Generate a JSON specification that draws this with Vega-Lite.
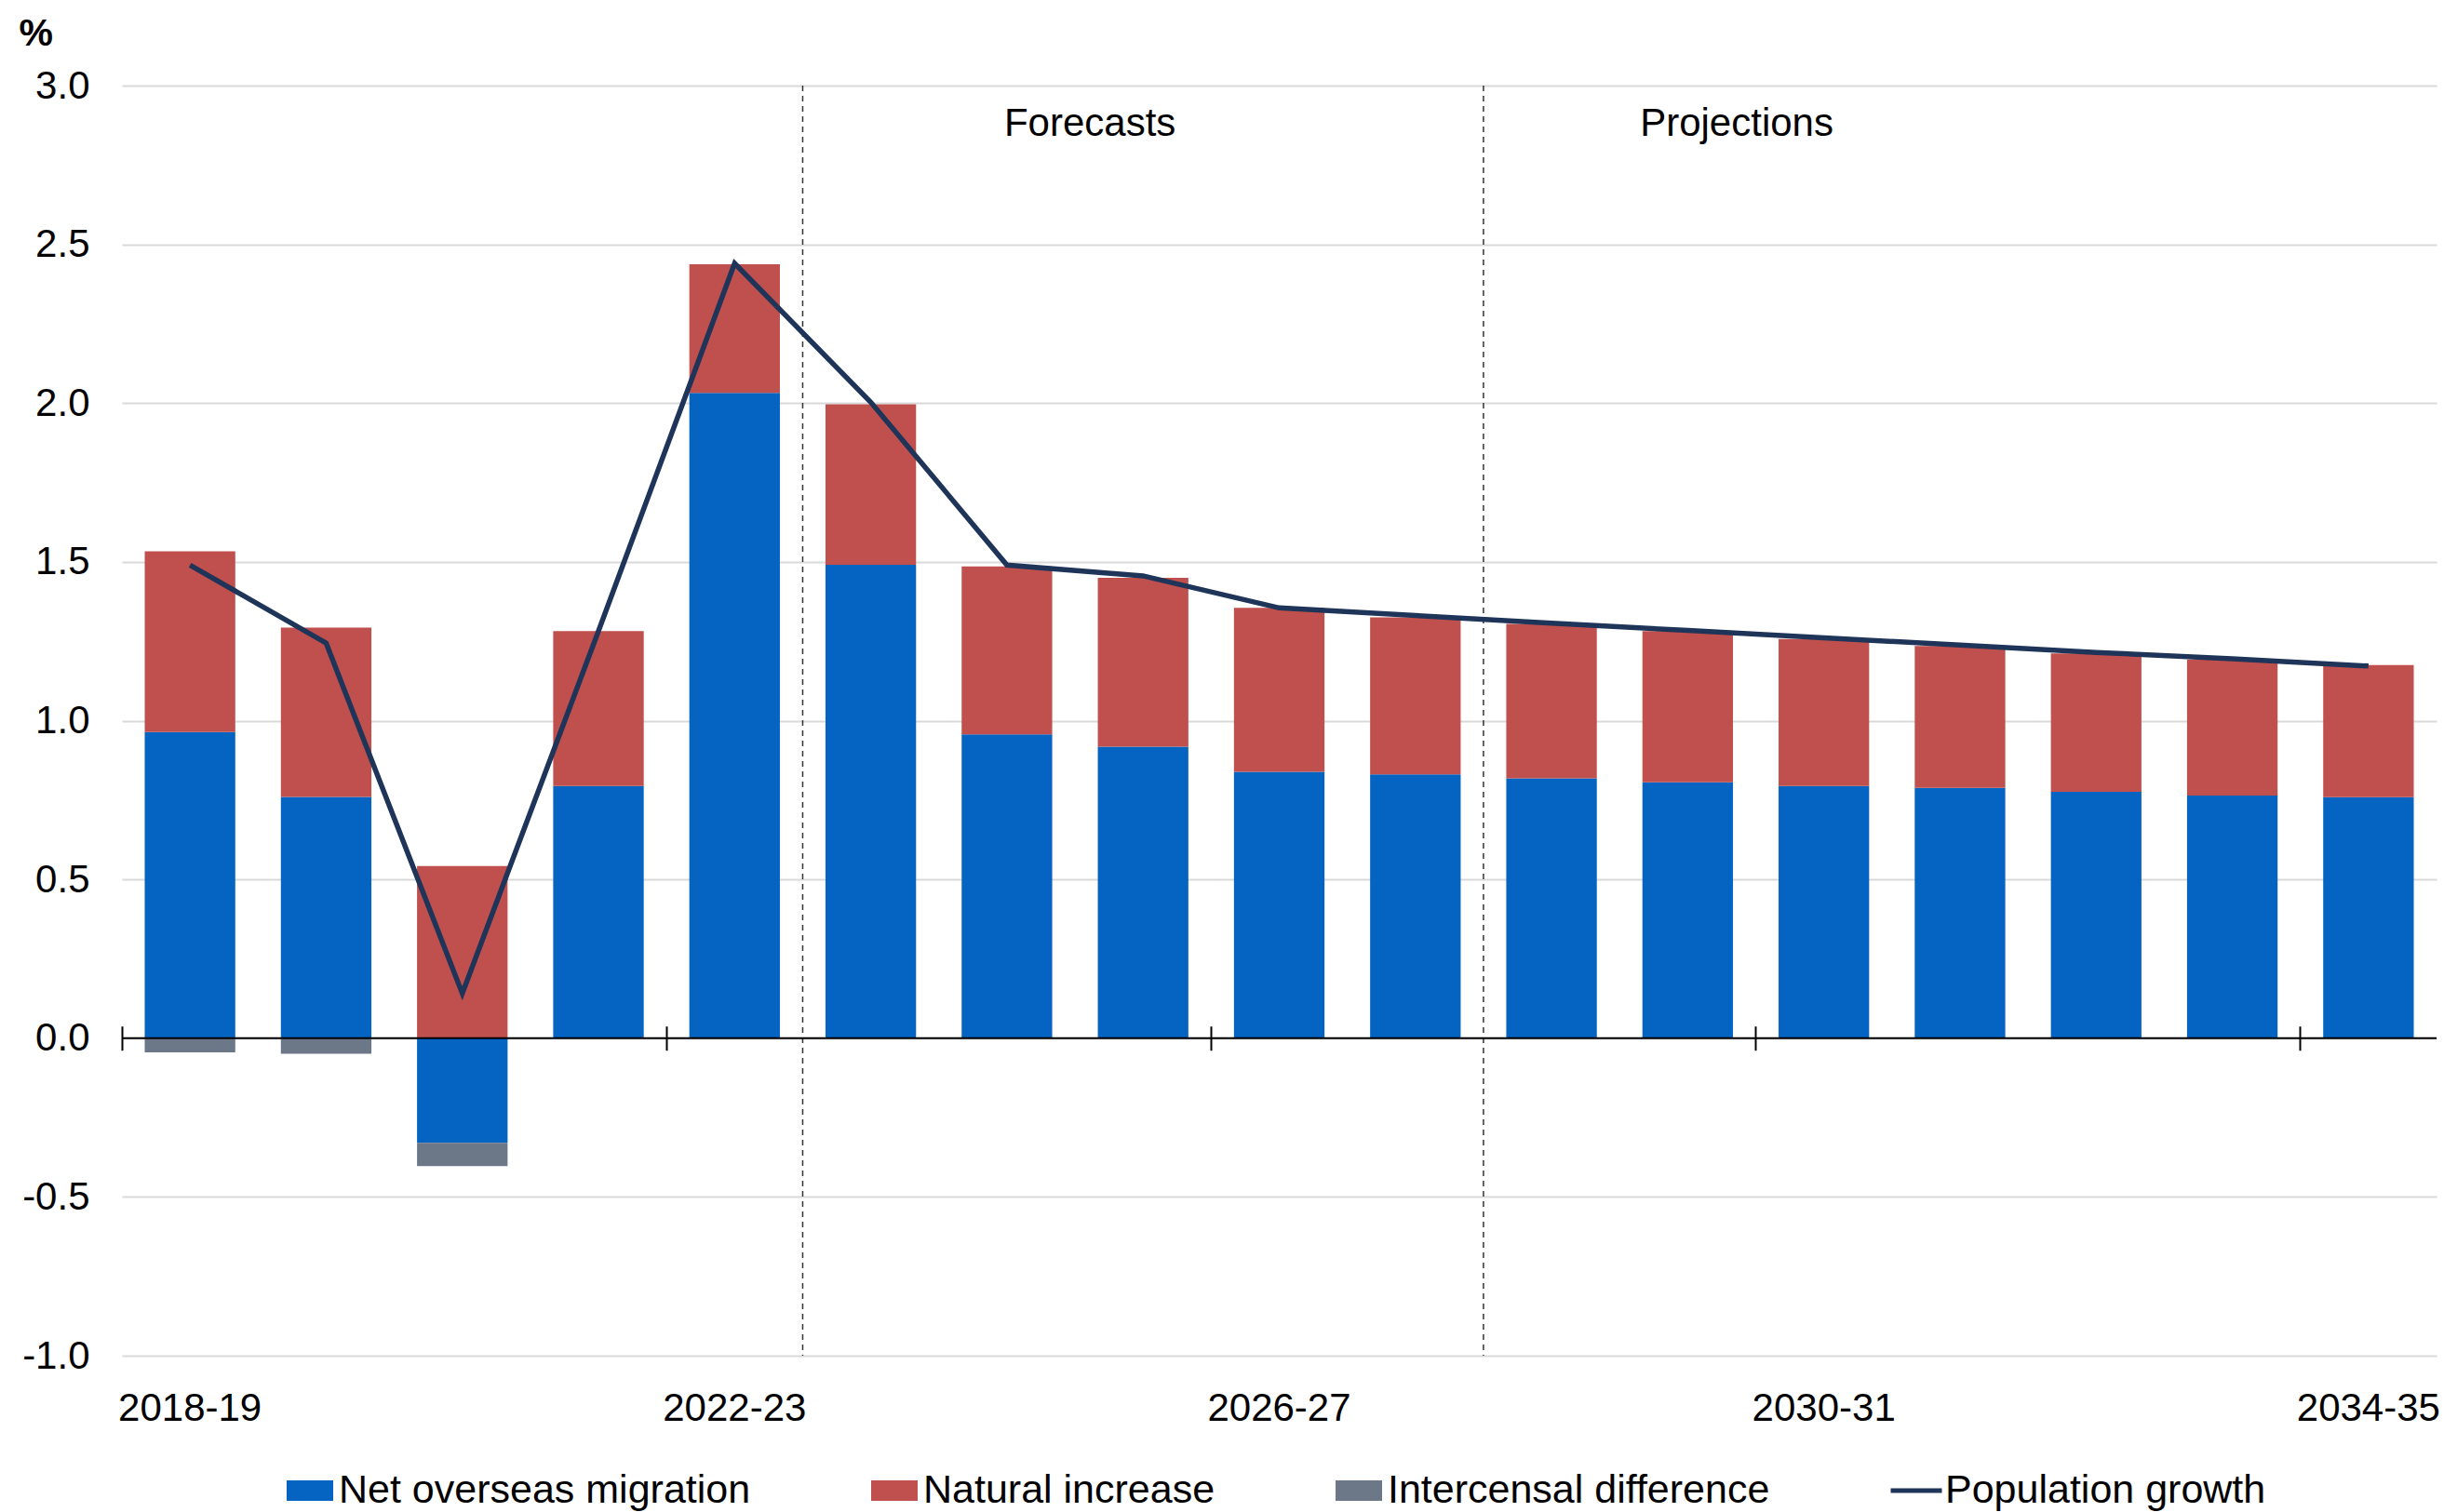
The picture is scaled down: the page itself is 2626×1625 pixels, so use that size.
{
  "$schema": "https://vega.github.io/schema/vega-lite/v6.json",
  "width": 2487,
  "height": 1365,
  "autosize": {"type": "none"},
  "padding": {"left": 131, "top": 92, "right": 8, "bottom": 168},
  "config": {
    "font": "Liberation Sans",
    "view": {"stroke": null},
    "axis": {"labelFont": "Liberation Sans", "titleFont": "Liberation Sans"},
    "axisY": {
      "title": "%", "titleAngle": 0, "titleX": -111, "titleY": -44,
      "titleAlign": "left", "titleBaseline": "alphabetic",
      "titleFontSize": 41, "titleFontWeight": "bold", "titleColor": "#000000",
      "labelFontSize": 42, "labelColor": "#000000", "labelPadding": 35,
      "ticks": false, "domain": false,
      "grid": true, "gridColor": "#D9D9D9", "gridWidth": 2
    },
    "legend": {"labelFont": "Liberation Sans"}
  },
  "datasets": {
    "bars": [
      {"year": "2018-19", "component": "Net overseas migration", "value": 0.964},
      {"year": "2018-19", "component": "Natural increase", "value": 0.569},
      {"year": "2018-19", "component": "Intercensal difference", "value": -0.045},
      {"year": "2019-20", "component": "Net overseas migration", "value": 0.760},
      {"year": "2019-20", "component": "Natural increase", "value": 0.533},
      {"year": "2019-20", "component": "Intercensal difference", "value": -0.049},
      {"year": "2020-21", "component": "Net overseas migration", "value": -0.330},
      {"year": "2020-21", "component": "Natural increase", "value": 0.542},
      {"year": "2020-21", "component": "Intercensal difference", "value": -0.073},
      {"year": "2021-22", "component": "Net overseas migration", "value": 0.794},
      {"year": "2021-22", "component": "Natural increase", "value": 0.488},
      {"year": "2022-23", "component": "Net overseas migration", "value": 2.032},
      {"year": "2022-23", "component": "Natural increase", "value": 0.405},
      {"year": "2023-24", "component": "Net overseas migration", "value": 1.491},
      {"year": "2023-24", "component": "Natural increase", "value": 0.505},
      {"year": "2024-25", "component": "Net overseas migration", "value": 0.957},
      {"year": "2024-25", "component": "Natural increase", "value": 0.529},
      {"year": "2025-26", "component": "Net overseas migration", "value": 0.918},
      {"year": "2025-26", "component": "Natural increase", "value": 0.532},
      {"year": "2026-27", "component": "Net overseas migration", "value": 0.839},
      {"year": "2026-27", "component": "Natural increase", "value": 0.516},
      {"year": "2027-28", "component": "Net overseas migration", "value": 0.831},
      {"year": "2027-28", "component": "Natural increase", "value": 0.494},
      {"year": "2028-29", "component": "Net overseas migration", "value": 0.818},
      {"year": "2028-29", "component": "Natural increase", "value": 0.487},
      {"year": "2029-30", "component": "Net overseas migration", "value": 0.806},
      {"year": "2029-30", "component": "Natural increase", "value": 0.476},
      {"year": "2030-31", "component": "Net overseas migration", "value": 0.794},
      {"year": "2030-31", "component": "Natural increase", "value": 0.463},
      {"year": "2031-32", "component": "Net overseas migration", "value": 0.788},
      {"year": "2031-32", "component": "Natural increase", "value": 0.447},
      {"year": "2032-33", "component": "Net overseas migration", "value": 0.776},
      {"year": "2032-33", "component": "Natural increase", "value": 0.436},
      {"year": "2033-34", "component": "Net overseas migration", "value": 0.764},
      {"year": "2033-34", "component": "Natural increase", "value": 0.428},
      {"year": "2034-35", "component": "Net overseas migration", "value": 0.759},
      {"year": "2034-35", "component": "Natural increase", "value": 0.416}
    ],
    "growth": [
      {"year": "2018-19", "series": "Population growth", "value": 1.490},
      {"year": "2019-20", "series": "Population growth", "value": 1.244},
      {"year": "2020-21", "series": "Population growth", "value": 0.141},
      {"year": "2021-22", "series": "Population growth", "value": 1.282},
      {"year": "2022-23", "series": "Population growth", "value": 2.440},
      {"year": "2023-24", "series": "Population growth", "value": 2.003},
      {"year": "2024-25", "series": "Population growth", "value": 1.490},
      {"year": "2025-26", "series": "Population growth", "value": 1.456},
      {"year": "2026-27", "series": "Population growth", "value": 1.355},
      {"year": "2027-28", "series": "Population growth", "value": 1.331},
      {"year": "2028-29", "series": "Population growth", "value": 1.307},
      {"year": "2029-30", "series": "Population growth", "value": 1.284},
      {"year": "2030-31", "series": "Population growth", "value": 1.261},
      {"year": "2031-32", "series": "Population growth", "value": 1.238},
      {"year": "2032-33", "series": "Population growth", "value": 1.215},
      {"year": "2033-34", "series": "Population growth", "value": 1.195},
      {"year": "2034-35", "series": "Population growth", "value": 1.172}
    ],
    "dividers": [
      {"year": "2023-24"},
      {"year": "2028-29"}
    ],
    "zero": [{"value": 0}],
    "notes": [
      {"label": "Forecasts", "year": "2025-26"},
      {"label": "Projections", "year": "2029-30"}
    ]
  },
  "layer": [
    {
      "data": {"name": "dividers"},
      "mark": {"type": "rule", "strokeDash": [6, 5], "color": "#333333", "strokeWidth": 1.5},
      "encoding": {
        "x": {
          "field": "year", "type": "ordinal", "bandPosition": 0,
          "scale": {"paddingInner": 0, "paddingOuter": 0},
          "axis": {
            "orient": "bottom", "title": null, "labels": false, "domain": false, "grid": false,
            "ticks": true, "bandPosition": 0, "tickSize": 26, "tickColor": "#000000", "tickWidth": 2,
            "offset": -354.25,
            "values": ["2018-19", "2022-23", "2026-27", "2030-31", "2034-35"]
          }
        }
      }
    },
    {
      "data": {"name": "bars"},
      "mark": {"type": "bar", "width": {"band": 0.665}},
      "encoding": {
        "x": {
          "field": "year", "type": "ordinal",
          "scale": {"paddingInner": 0, "paddingOuter": 0},
          "axis": {
            "orient": "bottom", "title": null, "ticks": false, "domain": false, "grid": false,
            "labelPadding": 36, "labelFontSize": 42, "labelColor": "#000000", "labelAngle": 0,
            "values": ["2018-19", "2022-23", "2026-27", "2030-31", "2034-35"]
          }
        },
        "y": {
          "field": "value", "type": "quantitative", "stack": "zero", "title": "%",
          "scale": {"domain": [-1, 3], "nice": false, "zero": false},
          "axis": {
            "values": [-1, -0.5, 0, 0.5, 1, 1.5, 2, 2.5, 3],
            "labelExpr": "datum.value < 0 ? '-' + format(-datum.value, '.1f') : format(datum.value, '.1f')"
          }
        },
        "color": {
          "field": "component", "type": "nominal",
          "sort": ["Net overseas migration", "Natural increase", "Intercensal difference", "Population growth"],
          "scale": {
            "domain": ["Net overseas migration", "Natural increase", "Intercensal difference", "Population growth"],
            "range": ["#0563C1", "#C0504D", "#6C7787", "#1F3459"]
          },
          "legend": {
            "orient": "none", "legendX": 177, "legendY": 1485, "direction": "horizontal",
            "title": null, "labelFontSize": 43, "labelColor": "#000000", "labelLimit": 0,
            "symbolSize": 2500, "labelOffset": 6, "columnPadding": 129,
            "symbolStrokeWidth": 0,
            "encode": {
              "symbols": {
                "update": {
                  "shape": {"signal": "datum.value === 'Population growth' ? 'M-1.1,-0.1H1.1V0.1H-1.1Z' : 'M-1,-0.44H1V0.44H-1Z'"},
                  "fill": {"signal": "scale('color', datum.value)"},
                  "opacity": {"value": 1}
                }
              }
            }
          }
        }
      }
    },
    {
      "data": {"name": "zero"},
      "mark": {"type": "rule", "color": "#000000", "strokeWidth": 2},
      "encoding": {
        "y": {"field": "value", "type": "quantitative", "title": "%"}
      }
    },
    {
      "data": {"name": "growth"},
      "mark": {"type": "line", "strokeWidth": 5.5, "strokeJoin": "miter"},
      "encoding": {
        "x": {"field": "year", "type": "ordinal", "axis": null},
        "y": {"field": "value", "type": "quantitative", "title": "%"},
        "color": {"field": "series", "type": "nominal", "legend": null}
      }
    },
    {
      "data": {"name": "notes"},
      "transform": [{"filter": "datum.label === 'Forecasts'"}],
      "mark": {"type": "text", "fontSize": 42, "color": "#000000", "baseline": "middle", "align": "center"},
      "encoding": {
        "x": {"field": "year", "type": "ordinal", "bandPosition": 0.11, "axis": null},
        "y": {"datum": 2.88, "type": "quantitative", "title": "%"},
        "text": {"field": "label"}
      }
    },
    {
      "data": {"name": "notes"},
      "transform": [{"filter": "datum.label === 'Projections'"}],
      "mark": {"type": "text", "fontSize": 42, "color": "#000000", "baseline": "middle", "align": "center"},
      "encoding": {
        "x": {"field": "year", "type": "ordinal", "bandPosition": 0.86, "axis": null},
        "y": {"datum": 2.88, "type": "quantitative", "title": "%"},
        "text": {"field": "label"}
      }
    }
  ],
  "resolve": {"axis": {"x": "independent"}}
}
